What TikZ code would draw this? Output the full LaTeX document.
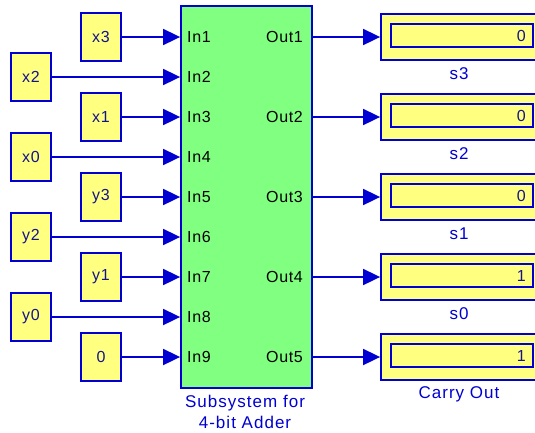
\documentclass[tikz,border=0pt]{standalone}
\usepackage{fontspec}
\setsansfont{Liberation Sans}
\usetikzlibrary{arrows.meta}
\definecolor{slblue}{RGB}{0,0,210}
\definecolor{sltext}{RGB}{20,20,140}
\definecolor{slyellow}{RGB}{255,255,128}
\definecolor{slgreen}{RGB}{128,255,128}
\tikzset{
  x=1pt,y=-1pt,
  every node/.style={font=\sffamily\fontsize{16}{18}\selectfont\addfontfeature{LetterSpace=4}},
  constblock/.style={draw=slblue,line width=1.8pt,fill=slyellow,minimum width=40pt,minimum height=48pt,inner sep=0pt,text=sltext},
  subsys/.style={draw=slblue,line width=1.8pt,fill=slgreen,minimum width=131pt,minimum height=382pt,inner sep=0pt},
  dispouter/.style={draw=slblue,line width=1.8pt,fill=slyellow,minimum width=162pt,minimum height=46pt,inner sep=0pt},
  dispinner/.style={draw=slblue,line width=1.8pt,fill=slyellow,minimum width=142pt,minimum height=23pt,inner sep=0pt},
  portlbl/.style={inner sep=0pt,text=black},
  dispval/.style={inner sep=0pt,text=sltext,anchor=east},
  blocklbl/.style={inner sep=0pt,text=slblue,font=\sffamily\fontsize{17}{21}\selectfont\addfontfeature{LetterSpace=6}},
  wire/.style={draw=slblue,line width=1.8pt,-{Triangle[length=17pt,width=16pt]}}
}
\begin{document}
\begin{tikzpicture}
\useasboundingbox (0,0) rectangle (535,432);
\clip (0,0) rectangle (535,432);
% subsystem
\node[subsys] (sub) at (246.5,197) {};
\node[blocklbl,align=center] (sublbl) at (245,412) {Subsystem for\\4-bit Adder};
% inputs
\node[constblock] (x3) at (101,37) {x3};
\node[constblock] (x2) at (31,77) {x2};
\node[constblock] (x1) at (101,117) {x1};
\node[constblock] (x0) at (31,157) {x0};
\node[constblock] (y3) at (101,197) {y3};
\node[constblock] (y2) at (31,237) {y2};
\node[constblock] (y1) at (101,277) {y1};
\node[constblock] (y0) at (31,317) {y0};
\node[constblock] (c0) at (101,357) {0};
\foreach \n/\y in {1/37,2/77,3/117,4/157,5/197,6/237,7/277,8/317,9/357}{
  \node[portlbl,anchor=west] (in\n) at (187,\y) {In\n};
}
\foreach \b in {x3,x2,x1,x0,y3,y2,y1,y0,c0}{
  \draw[wire] (\b.east) -- (\b.east -| sub.west);
}
% outputs
\foreach \n/\y/\v/\l [count=\i] in {1/37/0/s3,2/117/0/s2,3/197/0/s1,4/277/1/s0,5/357/1/Carry Out}{
  \node[portlbl,anchor=east] (out\n) at (303,\y) {Out\n};
  \node[dispouter] (d\n) at (462,\y) {};
  \node[dispinner] (di\n) at (462,\y-1.5) {};
  \node[dispval] (dv\n) at (526,\y-1.5) {\v};
  \node[blocklbl] (dl\n) at (459,\y+37) {\l};
  \draw[wire] (sub.east |- d\n.west) -- (d\n.west);
}
\end{tikzpicture}
\end{document}
